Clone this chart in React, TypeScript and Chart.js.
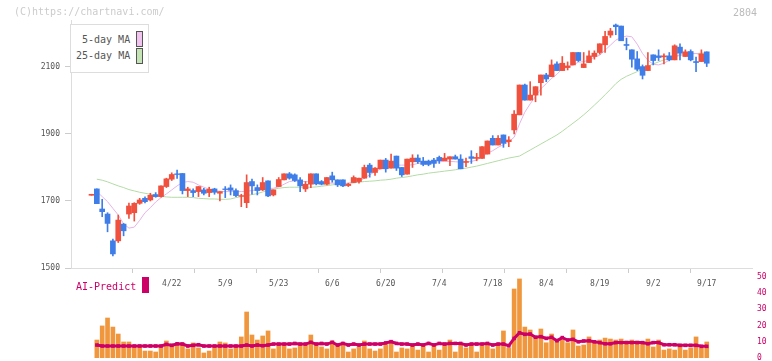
import React, { useEffect, useRef } from 'react';
import { Chart, registerables } from 'chart.js';
Chart.register(...registerables);

// ---- data (index = trading day) ----
const openP = [1717,1736,1676,1661,1581,1581,1631,1661,1665,1693, 1708,1703,1719,1713,1743,1765,1781,1782,1731,1731, 1728,1733,1725,1736,1723,1736,1739,1731,1714,1695, 1758,1740,1733,1760,1718,1743,1763,1781,1778,1763, 1736,1750,1781,1758,1750,1775,1763,1763,1746,1755, 1758,1768,1807,1785,1796,1822,1798,1834,1800,1780, 1817,1828,1819,1819,1822,1830,1820,1825,1832,1825, 1815,1832,1827,1827,1840,1887,1867,1897,1877,1912, 1957,2046,2001,2016,2053,2076,2071,2109,2089,2098, 2106,2143,2098,2113,2131,2143,2166,2195,2225,2222, 2167,2151,2124,2101,2089,2136,2133,2130,2133,2121, 2159,2131,2146,2116,2116,2145];
const highP = [1720,1736,1705,1665,1586,1658,1633,1694,1695,1708, 1712,1723,1725,1745,1768,1784,1792,1782,1741,1736, 1743,1738,1741,1738,1728,1743,1748,1736,1720,1778, 1765,1748,1770,1760,1733,1770,1781,1785,1781,1770, 1758,1781,1781,1761,1770,1786,1763,1763,1753,1775, 1768,1807,1812,1800,1822,1827,1840,1834,1800,1825, 1838,1838,1830,1822,1827,1834,1842,1832,1837,1838, 1828,1850,1842,1862,1879,1895,1895,1897,1892,1970, 2046,2049,2056,2041,2076,2081,2121,2115,2131,2115, 2143,2143,2143,2148,2148,2169,2206,2215,2228,2222, 2186,2151,2146,2106,2143,2136,2151,2139,2143,2166, 2169,2151,2151,2129,2151,2145];
const lowP = [1717,1692,1653,1608,1536,1576,1596,1648,1640,1690, 1694,1700,1711,1711,1740,1761,1767,1721,1713,1713, 1713,1718,1713,1720,1700,1710,1718,1713,1683,1680, 1720,1718,1731,1713,1715,1743,1763,1765,1758,1728, 1728,1740,1748,1748,1748,1756,1743,1743,1743,1755, 1753,1768,1771,1776,1796,1786,1798,1791,1773,1780, 1800,1812,1805,1805,1800,1812,1820,1805,1825,1796, 1802,1812,1820,1827,1840,1867,1867,1860,1862,1900, 1957,2001,2001,1996,2016,2056,2071,2089,2089,2091, 2106,2116,2098,2113,2123,2138,2143,2188,2196,2178, 2151,2099,2089,2064,2089,2106,2119,2109,2118,2121, 2121,2131,2118,2086,2116,2101];
const closeP = [1720,1692,1668,1633,1542,1643,1611,1685,1693,1703, 1698,1717,1713,1745,1766,1779,1779,1731,1736,1725, 1743,1723,1735,1726,1728,1734,1732,1716,1716,1755, 1745,1731,1755,1715,1733,1764,1781,1768,1761,1745, 1750,1781,1751,1750,1770,1763,1748,1745,1750,1770, 1768,1800,1785,1798,1822,1796,1819,1798,1778,1825, 1828,1817,1809,1809,1812,1820,1828,1832,1825,1796, 1818,1827,1830,1862,1879,1867,1887,1872,1882,1959, 2046,2001,2016,2041,2076,2064,2106,2089,2111,2103, 2143,2119,2109,2133,2141,2169,2191,2207,2220,2178, 2164,2123,2093,2075,2104,2119,2128,2133,2121,2163, 2141,2145,2121,2113,2139,2111];
const ma5 = [null,1728,1713,1698,1678,1658,1632,1619,1622,1642, 1665,1680,1697,1710,1721,1733,1745,1755,1758,1756, 1748,1741,1735,1731,1729,1728,1728,1728,1728,1729, 1731,1734,1735,1737,1738,1742,1750,1758,1760,1758, 1758,1757,1755,1755,1754,1753,1753,1752,1753,1755, 1758,1768,1778,1788,1795,1800,1804,1807,1807,1807, 1808,1812,1814,1815,1816,1817,1818,1818,1817,1816, 1816,1818,1822,1832,1842,1850,1860,1868,1877,1890, 1930,1965,1990,2012,2035,2050,2066,2078,2095,2100, 2106,2114,2116,2120,2129,2135,2150,2165,2180,2188, 2192,2190,2168,2140,2120,2108,2106,2111,2120,2130, 2137,2140,2141,2140,2136,2132];
const ma25 = [null,1765,1762,1757,1751,1745,1740,1734,1730,1726, 1723,1720,1718,1714,1712,1711,1711,1711,1711,1710, 1708,1707,1706,1706,1705,1705,1706,1710,1713,1716, 1719,1722,1727,1731,1735,1738,1740,1741,1741,1741, 1741,1741,1742,1744,1746,1748,1750,1751,1753,1754, 1756,1758,1759,1760,1762,1763,1765,1768,1770,1772, 1775,1778,1780,1783,1785,1787,1789,1791,1793,1796, 1798,1801,1804,1808,1812,1816,1820,1824,1828,1831, 1834,1843,1852,1861,1870,1879,1888,1897,1908,1920, 1932,1944,1957,1971,1986,2001,2017,2033,2050,2063, 2072,2079,2086,2094,2102,2109,2115,2121,2126,2131, 2134,2137,2139,2140,2141,2142];
const volume = [null,11.1,19.8,24.7,19.1,14.8,9.9,9.9,7.4,6.6, 4.3,4.3,3.7,6.6,10.5,8.6,8.0,9.3,5.6,9.3, 6.2,3.1,4.3,6.8,9.9,9.3,5.6,6.8,13.0,28.4, 14.2,11.1,13.6,16.7,5.6,8.0,8.2,5.6,6.2,8.0, 8.0,14.2,8.0,6.8,5.6,10.5,8.0,8.0,3.7,5.6, 6.8,10.5,5.6,4.3,5.6,8.0,9.3,3.7,6.2,5.6, 8.0,4.9,7.4,3.7,7.4,4.9,8.0,11.1,3.7,8.0, 6.2,8.0,3.7,7.4,8.0,5.6,8.0,16.7,6.2,42.6, 48.8,19.1,17.3,13.0,17.9,9.4,14.8,11.1,11.1,9.4, 17.3,7.4,8.0,13.0,9.3,11.1,12.3,11.7,11.1,11.7, 10.5,11.1,10.5,8.6,11.7,6.8,11.1,4.9,5.6,4.9, 7.4,4.9,6.2,13.0,6.2,9.9];
const aiPredict = [null,8.0,7.4,7.4,7.4,7.4,7.4,7.4,7.4,7.4, 7.4,7.4,7.4,7.4,8.4,7.8,8.8,8.6,7.4,7.8, 8.2,7.4,7.4,7.4,7.4,7.4,7.4,7.4,7.4,8.0, 7.4,8.0,7.6,8.0,8.6,8.6,8.6,8.6,9.0,8.6, 8.6,9.7,8.6,9.0,8.6,9.7,8.0,9.0,8.0,8.6, 8.0,8.6,8.6,8.6,8.6,9.3,10.1,9.0,8.6,8.6, 8.0,8.6,8.0,9.0,8.0,9.0,8.6,9.0,9.0,9.0, 8.0,8.6,8.6,8.6,9.0,8.0,8.6,8.6,7.6,12.1, 15.6,14.6,14.8,12.8,13.2,12.1,12.8,10.7,12.6,11.1, 11.5,10.0,10.5,10.7,10.0,9.5,8.8,8.8,9.5,9.5, 9.5,9.5,9.5,9.5,8.8,9.5,9.5,8.2,8.2,8.2, 7.8,7.8,7.8,7.8,7.2,7.2];

const dateLabelIdx = [15,25,35,45,55,65,75,85,95,105,115];
const dateLabels = ['4/22','5/9','5/23','6/6','6/20','7/4','7/18','8/4','8/19','9/2','9/17'];
const tickMarkIdx = [7.6,19.2,30.8,42.4,54.0,65.6,77.2,88.8,100.4,112.0];
const priceTicks = [1500,1700,1900,2100];
const volTicks = [0,10,20,30,40,50];

const X_MIN = -3.83;
const X_MAX = 123.46;
const RED = '#f0513f';
const BLUE = '#3f7ee8';
const PINK = '#e6b3e6';
const GREEN = '#b3dba5';
const MAG = '#cc0066';
const ORANGE = '#f0963c';
const MONO = "'DejaVu Sans Mono', monospace";

export default function App() {
  const mainRef = useRef<HTMLCanvasElement>(null);
  const volRef = useRef<HTMLCanvasElement>(null);

  useEffect(() => {
    const idx = closeP.map((_, i) => i);
    const colors = idx.map(i => (closeP[i] >= openP[i] ? RED : BLUE));
    const main = new Chart(mainRef.current as HTMLCanvasElement, {
      type: 'bar',
      data: {
        datasets: [
          { type: 'line', data: ma5.map((v, i) => ({ x: i, y: v })), borderColor: PINK, borderWidth: 1, pointRadius: 0, order: 3 } as any,
          { type: 'line', data: ma25.map((v, i) => ({ x: i, y: v })), borderColor: GREEN, borderWidth: 1, pointRadius: 0, order: 4 } as any,
          { type: 'bar', data: idx.map(i => ({ x: i, y: [lowP[i], highP[i]] })), backgroundColor: colors, barThickness: 1, grouped: false, order: 2 } as any,
          { type: 'bar', data: idx.map(i => ({ x: i, y: [openP[i], closeP[i]] })), backgroundColor: colors, barThickness: 5, grouped: false, order: 1 } as any,
        ],
      },
      options: {
        responsive: false,
        animation: false,
        layout: { padding: { top: 20, right: 20, left: 0, bottom: 0 } },
        plugins: { legend: { display: false }, tooltip: { enabled: false } },
        scales: {
          x: {
            type: 'linear', min: X_MIN, max: X_MAX, offset: false, position: 'bottom', weight: 0,
            afterBuildTicks: (s: any) => { s.ticks = tickMarkIdx.map(v => ({ value: v })); },
            ticks: { display: false },
            grid: { offset: false, drawOnChartArea: false, drawTicks: true, tickLength: 5, color: '#cccccc' },
            border: { display: true, color: '#dddddd' },
            afterFit: (s: any) => { s.height = 5; },
          },
          x2: {
            type: 'linear', min: X_MIN, max: X_MAX, offset: false, position: 'bottom', weight: 1,
            afterBuildTicks: (s: any) => { s.ticks = dateLabelIdx.map(v => ({ value: v })); },
            ticks: {
              autoSkip: false, maxRotation: 0, padding: 6, color: '#555555',
              font: { family: MONO, size: 8 },
              callback: (v: any) => { const k = dateLabelIdx.indexOf(v); return k >= 0 ? dateLabels[k] : ''; },
            },
            grid: { display: false, drawTicks: false, offset: false },
            border: { display: false },
            afterFit: (s: any) => { s.height = 17; },
          },
          y: {
            type: 'linear', min: 1500, max: 2240, position: 'left',
            afterBuildTicks: (s: any) => { s.ticks = priceTicks.map(v => ({ value: v })); },
            ticks: { padding: 5, color: '#555555', font: { family: MONO, size: 8 }, callback: (v: any) => String(v) },
            grid: { drawOnChartArea: false, drawTicks: true, tickLength: 6, color: '#cccccc' },
            border: { display: true, color: '#dddddd' },
            afterFit: (s: any) => { s.width = 71; s.paddingTop = 0; s.paddingBottom = 0; },
          },
        },
      } as any,
    });

    const vol = new Chart(volRef.current as HTMLCanvasElement, {
      type: 'bar',
      data: {
        datasets: [
          { type: 'line', data: aiPredict.map((v, i) => ({ x: i, y: v })), borderColor: MAG, borderWidth: 3, pointStyle: 'rect', pointRadius: 2.5, pointBackgroundColor: MAG, pointBorderWidth: 0, order: 1 } as any,
          { type: 'bar', data: volume.map((v, i) => ({ x: i, y: v })), backgroundColor: ORANGE, barThickness: 4, grouped: false, order: 2 } as any,
        ],
      },
      options: {
        responsive: false,
        animation: false,
        layout: { padding: { top: 7, right: 0, left: 71, bottom: 6 } },
        plugins: { legend: { display: false }, tooltip: { enabled: false } },
        scales: {
          x: { type: 'linear', min: X_MIN, max: X_MAX, offset: false, display: false, grid: { offset: false } },
          y: {
            type: 'linear', min: 0, max: 50, position: 'right',
            afterBuildTicks: (s: any) => { s.ticks = volTicks.map(v => ({ value: v })); },
            ticks: { padding: 5, color: MAG, font: { family: MONO, size: 8 }, callback: (v: any) => String(v) },
            grid: { display: false, drawTicks: false },
            border: { display: false },
            afterFit: (s: any) => { s.width = 20; s.paddingTop = 0; s.paddingBottom = 0; },
          },
        },
      } as any,
    });

    return () => { main.destroy(); vol.destroy(); };
  }, []);

  const txt = (extra: React.CSSProperties): React.CSSProperties => ({
    position: 'absolute', fontFamily: MONO, fontSize: 10, lineHeight: '10px', whiteSpace: 'nowrap', ...extra,
  });

  return (
    <div style={{ position: 'absolute', left: 0, top: 0, width: 772, height: 361, overflow: 'hidden', background: '#ffffff' }}>
      <canvas ref={mainRef} width={772} height={290} style={{ position: 'absolute', left: 0, top: 0 }} />
      <canvas ref={volRef} width={772} height={94} style={{ position: 'absolute', left: 0, top: 270 }} />
      <div style={txt({ left: 14, top: 6.5, color: '#cccccc' })}>(C)https://chartnavi.com/</div>
      <div style={txt({ left: 733, top: 7.5, color: '#bbbbbb' })}>2804</div>
      <div style={{ position: 'absolute', left: 70, top: 24, width: 79, height: 49, boxSizing: 'border-box', border: '1px solid #dddddd', background: '#ffffff' }} />
      <div style={txt({ left: 82, top: 34.5, color: '#555555' })}>5-day MA</div>
      <div style={txt({ left: 76, top: 50.5, color: '#555555' })}>25-day MA</div>
      <div style={{ position: 'absolute', left: 136, top: 31, width: 7, height: 16, boxSizing: 'border-box', border: '1px solid #555555', background: '#f0c4ee' }} />
      <div style={{ position: 'absolute', left: 136, top: 48, width: 7, height: 16, boxSizing: 'border-box', border: '1px solid #555555', background: '#c4e4b6' }} />
      <div style={txt({ left: 76, top: 281.5, color: MAG })}>AI-Predict</div>
      <div style={{ position: 'absolute', left: 142, top: 277, width: 7, height: 16, background: MAG }} />
    </div>
  );
}
